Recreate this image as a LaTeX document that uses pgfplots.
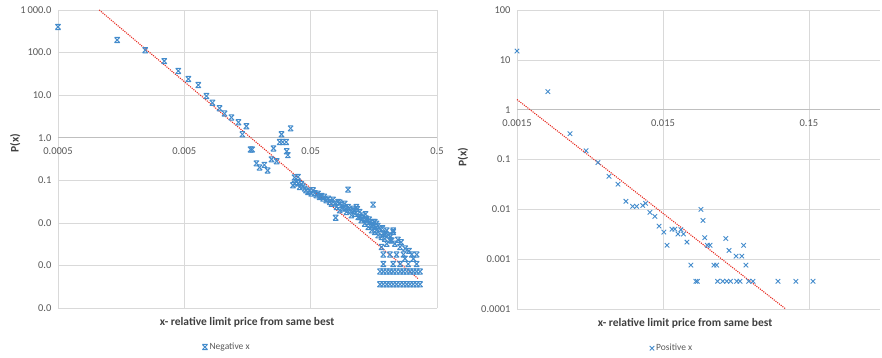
\documentclass[border=0pt]{standalone}
\usepackage{pgfplots}
\pgfplotsset{compat=1.18}
\usepackage{fontspec}
\setmainfont{Carlito}
\definecolor{gridc}{RGB}{217,217,217}
\definecolor{axc}{RGB}{191,191,191}
\definecolor{tickc}{RGB}{89,89,89}
\definecolor{titc}{RGB}{64,64,64}
\definecolor{ptc}{RGB}{68,140,204}
\definecolor{trc}{RGB}{232,45,35}
\pgfdeclareplotmark{xbar}{%
  \pgfpathmoveto{\pgfqpoint{-\pgfplotmarksize}{-\pgfplotmarksize}}%
  \pgfpathlineto{\pgfqpoint{\pgfplotmarksize}{\pgfplotmarksize}}%
  \pgfpathmoveto{\pgfqpoint{-\pgfplotmarksize}{\pgfplotmarksize}}%
  \pgfpathlineto{\pgfqpoint{\pgfplotmarksize}{-\pgfplotmarksize}}%
  \pgfpathmoveto{\pgfqpoint{-\pgfplotmarksize}{\pgfplotmarksize}}%
  \pgfpathlineto{\pgfqpoint{\pgfplotmarksize}{\pgfplotmarksize}}%
  \pgfpathmoveto{\pgfqpoint{-\pgfplotmarksize}{-\pgfplotmarksize}}%
  \pgfpathlineto{\pgfqpoint{\pgfplotmarksize}{-\pgfplotmarksize}}%
  \pgfusepathqstroke}
\begin{document}
\begin{tikzpicture}
\path[use as bounding box] (0pt,0pt) rectangle (882pt,357pt);
\begin{axis}[
  scale only axis, anchor=south west,
  xmode=log, ymode=log,
  axis line style={draw=none},
  major tick length=0pt, minor tick length=0pt,
  grid=major, grid style={draw=gridc, line width=0.6pt},
  extra y ticks={1}, extra y tick style={yticklabel={}, grid style={draw=axc, line width=0.8pt}},
  ticklabel style={font=\fontsize{10.5}{12}\selectfont, text=tickc},
  xticklabel style={anchor=north, yshift=164pt},
  yticklabel style={xshift=-3pt},
  xlabel style={font=\fontsize{11.5}{13}\selectfont\bfseries, text=titc, anchor=center, at={(axis description cs:0.499,-0.047)}},
  ylabel style={font=\fontsize{11.5}{13}\selectfont\bfseries, text=titc, anchor=center, at={(axis description cs:-0.113,0.554)}},
  legend style={draw=none, fill=none, font=\fontsize{9.5}{11}\selectfont, text=tickc, anchor=center, inner sep=1pt, at={(0.446,-0.131)}},
  clip=false,
  at={(58pt,49pt)}, width=379pt, height=298pt,
  xmin=0.0005, xmax=0.5, ymin=1e-4, ymax=1000,
  xtick={0.0005,0.005,0.05,0.5}, xticklabels={0.0005,0.005,0.05,0.5},
  ytick={1e-4,1e-3,1e-2,0.1,1,10,100,1000},
  yticklabels={0.0,0.0,0.0,0.1,1.0,10.0,100.0,1\,000.0},
  xlabel={x- relative limit price from same best},
  ylabel={P(x)},
]
\addplot[only marks, mark=xbar, mark size=2.6pt, draw=ptc, mark options={line width=1pt}] coordinates {
(0.0005,400)(0.00147,197)(0.00245,114)(0.00347,63)(0.00448,37)(0.00538,24)(0.00645,17.3)(0.00748,9.5)(0.00834,6.6)(0.0095,4.9)(0.0104,3.7)(0.0118,3.0)(0.0134,2.3)(0.0155,1.86)(0.0144,1.2)(0.0167,0.53)(0.0172,0.53)(0.0186,0.25)(0.0197,0.20)(0.0215,0.23)(0.0228,0.17)(0.0245,0.31)(0.0254,0.56)(0.0269,0.28)(0.0284,0.79)(0.0294,1.2)(0.0300,0.79)(0.0320,0.79)(0.0323,0.48)(0.0330,0.39)(0.0347,1.66)(0.0373,0.117)(0.040,0.085)
(0.0362,0.0764)(0.0385,0.0914)(0.0397,0.120)(0.0409,0.0698)(0.0373,0.0836)(0.0422,0.0805)(0.0448,0.0637)(0.0476,0.0532)(0.0506,0.0486)(0.0522,0.0582)(0.0555,0.0444)(0.0589,0.0406)(0.0571,0.0486)(0.0627,0.0371)(0.0665,0.0339)(0.0708,0.0310)(0.0752,0.0351)(0.0776,0.0283)(0.0800,0.0236)(0.0824,0.0310)(0.0849,0.0197)(0.0875,0.0258)(0.0903,0.0216)(0.0931,0.0283)(0.0960,0.0180)(0.0989,0.0236)(0.102,0.0197)(0.105,0.0150)(0.108,0.0216)(0.112,0.0164)(0.115,0.0236)(0.119,0.0137)(0.122,0.0180)(0.126,0.0115)(0.130,0.0150)(0.134,0.00957)(0.138,0.0125)(0.143,0.00798)(0.147,0.0105)(0.152,0.00667)(0.156,0.00875)(0.161,0.00610)(0.166,0.00957)(0.171,0.00508)(0.177,0.00730)(0.182,0.00465)(0.188,0.00556)(0.193,0.00425)(0.200,0.00667)(0.206,0.00508)(0.212,0.00388)(0.225,0.00610)(0.0789,0.0132)(0.0989,0.0604)(0.156,0.0268)
(0.0435,0.072)(0.046,0.058)(0.049,0.057)(0.054,0.05)(0.061,0.043)(0.064,0.041)(0.069,0.037)(0.073,0.028)(0.085,0.030)(0.094,0.022)(0.11,0.019)(0.117,0.021)(0.128,0.013)(0.136,0.016)(0.145,0.012)(0.158,0.0105)(0.17,0.0085)(0.185,0.0075)(0.195,0.0055)(0.215,0.0048)(0.245,0.0040)(0.26,0.0035)(0.28,0.0025)(0.3,0.0022)
(0.122,0.0137)(0.138,0.0115)(0.152,0.00873)(0.161,0.0105)(0.166,0.00666)(0.219,0.00387)(0.225,0.00666)(0.232,0.00324)(0.200,0.00324)(0.182,0.00270)(0.255,0.00270)(0.271,0.0018)(0.315,0.0018)(0.188,0.0018)(0.212,0.0018)(0.239,0.0018)(0.279,0.00144)(0.325,0.00144)(0.188,0.00108)(0.225,0.00108)(0.255,0.00108)(0.296,0.00108)(0.345,0.00108)(0.345,0.0018)
(0.177,0.00072)(0.188,0.00072)(0.200,0.00072)(0.212,0.00072)(0.225,0.00072)(0.239,0.00072)(0.255,0.00072)(0.271,0.00072)(0.288,0.00072)(0.306,0.00072)(0.325,0.00072)(0.345,0.00072)(0.367,0.00072)
(0.177,0.00036)(0.188,0.00036)(0.200,0.00036)(0.212,0.00036)(0.225,0.00036)(0.239,0.00036)(0.255,0.00036)(0.271,0.00036)(0.288,0.00036)(0.306,0.00036)(0.325,0.00036)(0.345,0.00036)(0.367,0.00036)
};
\addlegendentry{Negative x}
\addplot[forget plot, trc, line width=1.1pt, dash pattern=on 1.1pt off 1.1pt] coordinates {(0.00106,1000)(0.353,0.000494)};
\end{axis}
\begin{axis}[
  scale only axis, anchor=south west,
  xmode=log, ymode=log,
  axis line style={draw=none},
  major tick length=0pt, minor tick length=0pt,
  grid=major, grid style={draw=gridc, line width=0.6pt},
  extra y ticks={1}, extra y tick style={yticklabel={}, grid style={draw=axc, line width=0.8pt}},
  ticklabel style={font=\fontsize{10.5}{12}\selectfont, text=tickc},
  xticklabel style={anchor=north, yshift=193pt},
  yticklabel style={xshift=-3pt},
  xlabel style={font=\fontsize{11.5}{13}\selectfont\bfseries, text=titc, anchor=center, at={(axis description cs:0.463,-0.047)}},
  ylabel style={font=\fontsize{11.5}{13}\selectfont\bfseries, text=titc, anchor=center, at={(axis description cs:-0.149,0.508)}},
  legend style={draw=none, fill=none, font=\fontsize{9.5}{11}\selectfont, text=tickc, anchor=center, inner sep=1pt, at={(0.427,-0.131)}},
  clip=false,
  at={(517pt,48pt)}, width=363pt, height=299pt,
  xmin=0.0015, xmax=0.46, ymin=1e-4, ymax=100,
  xtick={0.0015,0.015,0.15}, xticklabels={0.0015,0.015,0.15},
  ytick={1e-4,1e-3,1e-2,0.1,1,10,100},
  yticklabels={0.0001,0.001,0.01,0.1,1,10,100},
  xlabel={x- relative limit price from same best},
  ylabel={P(x)},
]
\addplot[only marks, mark=x, mark size=3.2pt, draw=ptc, mark options={line width=0.9pt}] coordinates {
(0.0015,15)(0.00244,2.3)(0.00346,0.33)(0.00446,0.15)(0.00538,0.087)(0.0064,0.046)(0.00738,0.032)(0.00836,0.0145)(0.0093,0.0115)(0.0099,0.0115)(0.0109,0.012)(0.0114,0.0132)(0.0122,0.0087)(0.0132,0.0072)(0.0141,0.0046)(0.0152,0.0035)(0.0160,0.0019)(0.0173,0.004)(0.0181,0.004)(0.019,0.0032)(0.0199,0.0039)(0.0207,0.0032)(0.0219,0.0022)(0.0233,0.00076)(0.0252,0.00036)(0.0258,0.00036)(0.0273,0.01)(0.0282,0.006)(0.029,0.0027)(0.0302,0.0019)(0.0315,0.0019)(0.0335,0.00076)(0.035,0.00076)(0.0355,0.00036)(0.0385,0.00036)(0.0404,0.0026)(0.041,0.00036)(0.0425,0.0015)(0.0435,0.00036)(0.0475,0.00115)(0.048,0.00036)(0.0505,0.00036)(0.052,0.00115)(0.0535,0.0019)(0.0555,0.00076)(0.058,0.00036)(0.062,0.00036)(0.092,0.00036)(0.122,0.00036)(0.16,0.00036)
};
\addlegendentry{Positive x}
\addplot[forget plot, trc, line width=1.1pt, dash pattern=on 1.1pt off 1.1pt] coordinates {(0.0015,1.6)(0.104,0.0001)};
\end{axis}
\end{tikzpicture}
\end{document}
